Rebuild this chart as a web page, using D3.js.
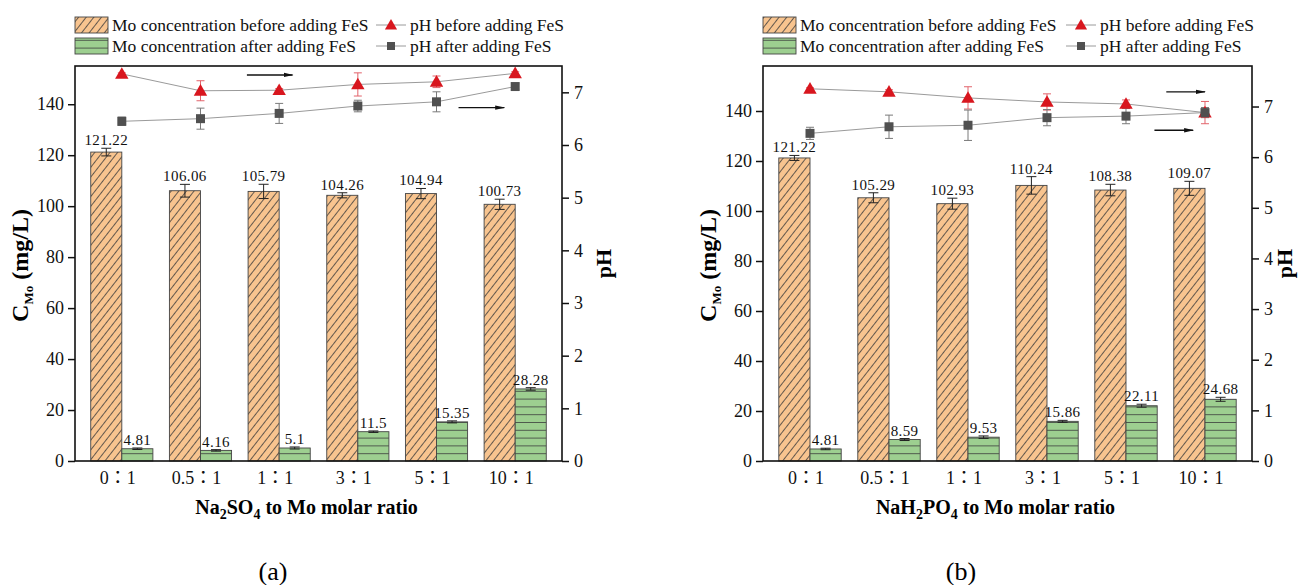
<!DOCTYPE html>
<html><head><meta charset="utf-8">
<script src="https://cdn.jsdelivr.net/npm/d3@7"></script>
<style>body{margin:0;background:#fff}svg{display:block}</style>
</head><body>
<svg id="chart" width="1299" height="585"></svg>
<script>
// ---------- data ----------
const categories = ["0：1", "0.5：1", "1：1", "3：1", "5：1", "10：1"];
const cTicks = [0, 20, 40, 60, 80, 100, 120, 140];
const pHTicks = [0, 1, 2, 3, 4, 5, 6, 7];
const legendLabels = ["Mo concentration before adding FeS", "Mo concentration after adding FeS",
                      "pH before adding FeS", "pH after adding FeS"];

// panel (a) Na2SO4
const moBeforeA    = [121.22, 106.06, 105.79, 104.26, 104.94, 100.73];
const moBeforeErrA = [1.5, 2.5, 2.8, 1.0, 2.0, 2.0];
const moAfterA     = [4.81, 4.16, 5.1, 11.5, 15.35, 28.28];
const moAfterErrA  = [0.3, 0.3, 0.4, 0.3, 0.4, 0.5];
const phBeforeA    = [7.35, 7.03, 7.04, 7.15, 7.20, 7.36];
const phBeforeErrA = [0.02, 0.19, 0.03, 0.22, 0.11, 0.03];
const phAfterA     = [6.45, 6.50, 6.60, 6.74, 6.82, 7.11];
const phAfterErrA  = [0.08, 0.20, 0.19, 0.11, 0.19, 0.05];

// panel (b) NaH2PO4
const moBeforeB    = [121.22, 105.29, 102.93, 110.24, 108.38, 109.07];
const moBeforeErrB = [1.0, 2.0, 2.2, 3.5, 2.3, 2.8];
const moAfterB     = [4.81, 8.59, 9.53, 15.86, 22.11, 24.68];
const moAfterErrB  = [0.3, 0.4, 0.5, 0.4, 0.6, 0.8];
const phBeforeB    = [7.35, 7.29, 7.17, 7.09, 7.05, 6.88];
const phBeforeErrB = [0.02, 0.04, 0.22, 0.16, 0.08, 0.22];
const phAfterB     = [6.47, 6.60, 6.63, 6.78, 6.81, 6.88];
const phAfterErrB  = [0.12, 0.23, 0.30, 0.16, 0.15, 0.10];

// ---------- drawing ----------
const SERIF = "'Liberation Serif','Times New Roman','Noto Sans CJK TC',serif";
const ORANGE = "#F8C48F", GREEN = "#9DCF90", RED = "#D8161E", DARK = "#505050";
const svg = d3.select("#chart");
const defs = svg.append("defs");

const po = defs.append("pattern").attr("id", "hatchO").attr("patternUnits", "userSpaceOnUse")
  .attr("width", 6).attr("height", 6).attr("patternTransform", "rotate(-52)");
po.append("rect").attr("width", 6).attr("height", 6).attr("fill", ORANGE);
po.append("line").attr("x1", 0).attr("x2", 6).attr("y1", 0.5).attr("y2", 0.5)
  .attr("stroke", "#3c3c3c").attr("stroke-width", 0.8);

const pg = defs.append("pattern").attr("id", "hatchG").attr("patternUnits", "userSpaceOnUse")
  .attr("width", 8).attr("height", 7.8).attr("y", 461 % 7.8);
pg.append("rect").attr("width", 8).attr("height", 7.8).attr("fill", GREEN);
pg.append("line").attr("x1", 0).attr("x2", 8).attr("y1", 0.5).attr("y2", 0.5)
  .attr("stroke", "#3c3c3c").attr("stroke-width", 0.8);

defs.append("marker").attr("id", "arr").attr("viewBox", "0 0 10 6").attr("refX", 9).attr("refY", 3)
  .attr("markerWidth", 10).attr("markerHeight", 6).attr("markerUnits", "userSpaceOnUse").attr("orient", "auto")
  .append("path").attr("d", "M0,0.8 L10,3 L0,5.2 Z").attr("fill", "#111");

function drawPanel(cfg) {
  const g = svg.append("g");
  const { x0, x1, y0, y1 } = cfg;
  const x = d3.scaleBand().domain(categories).range([x0, x1]).paddingInner(0.21).paddingOuter(0.2);
  const xs = d3.scaleBand().domain(["before", "after"]).range([0, x.bandwidth()]);
  const yC = d3.scaleLinear().domain(cfg.cDomain).range([y1, y0]);
  const yP = d3.scaleLinear().domain(cfg.pDomain).range([y1, y0]);
  const cx = c => x(c) + x.bandwidth() / 2;

  const series = [
    { key: "before", vals: cfg.before, errs: cfg.beforeErr, fill: "url(#hatchO)" },
    { key: "after", vals: cfg.after, errs: cfg.afterErr, fill: "url(#hatchG)" }
  ];
  series.forEach(s => {
    const bx = c => x(c) + xs(s.key);
    g.selectAll(null).data(categories).join("rect")
      .attr("x", c => bx(c)).attr("width", xs.bandwidth())
      .attr("y", (c, i) => yC(s.vals[i])).attr("height", (c, i) => yC(0) - yC(s.vals[i]))
      .attr("fill", s.fill).attr("stroke", "#444").attr("stroke-width", 0.9);
    const eb = g.selectAll(null).data(categories).join("g")
      .attr("stroke", "#222").attr("stroke-width", 1);
    eb.append("line").attr("x1", c => bx(c) + xs.bandwidth() / 2).attr("x2", c => bx(c) + xs.bandwidth() / 2)
      .attr("y1", (c, i) => yC(s.vals[i] - s.errs[i])).attr("y2", (c, i) => yC(s.vals[i] + s.errs[i]));
    [1, -1].forEach(sg => eb.append("line")
      .attr("x1", c => bx(c) + xs.bandwidth() / 2 - 5).attr("x2", c => bx(c) + xs.bandwidth() / 2 + 5)
      .attr("y1", (c, i) => yC(s.vals[i] + sg * s.errs[i]))
      .attr("y2", (c, i) => yC(s.vals[i] + sg * s.errs[i])));
    g.selectAll(null).data(categories).join("text")
      .attr("x", c => bx(c) + xs.bandwidth() / 2)
      .attr("y", (c, i) => yC(s.vals[i] + s.errs[i]) - 3)
      .attr("text-anchor", "middle").attr("font-family", SERIF).attr("font-size", 15)
      .attr("letter-spacing", 0.4).attr("fill", "#111")
      .text((c, i) => String(s.vals[i]));
  });

  // pH lines
  const phSeries = [
    { vals: cfg.phB, errs: cfg.phBErr, sym: d3.symbolTriangle, size: 78, fill: RED, err: "#E2636B" },
    { vals: cfg.phA, errs: cfg.phAErr, sym: d3.symbolSquare, size: 81, fill: DARK, err: "#7a7a7a" }
  ];
  phSeries.forEach(s => {
    g.append("path").datum(categories)
      .attr("d", d3.line().x(c => cx(c)).y((c, i) => yP(s.vals[i])))
      .attr("fill", "none").attr("stroke", "#9a9a9a").attr("stroke-width", 1);
  });
  phSeries.forEach(s => {
    const eb = g.selectAll(null).data(categories).join("g").attr("stroke", s.err).attr("stroke-width", 1);
    eb.append("line").attr("x1", cx).attr("x2", cx)
      .attr("y1", (c, i) => yP(s.vals[i] - s.errs[i])).attr("y2", (c, i) => yP(s.vals[i] + s.errs[i]));
    [1, -1].forEach(sg => eb.append("line").attr("x1", c => cx(c) - 4).attr("x2", c => cx(c) + 4)
      .attr("y1", (c, i) => yP(s.vals[i] + sg * s.errs[i])).attr("y2", (c, i) => yP(s.vals[i] + sg * s.errs[i])));
  });
  phSeries.forEach(s => {
    g.selectAll(null).data(categories).join("path")
      .attr("transform", (c, i) => `translate(${cx(c)},${yP(s.vals[i]) + (s.sym === d3.symbolTriangle ? 1 : 0)})`)
      .attr("d", d3.symbol(s.sym, s.size)).attr("fill", s.fill);
  });

  // arrows (pointing to right axis)
  const step = x.step();
  cfg.arrows.forEach(a => {
    g.append("line")
      .attr("x1", cx(categories[0]) + a[0] * step).attr("x2", cx(categories[0]) + a[1] * step)
      .attr("y1", yP(a[2])).attr("y2", yP(a[2]))
      .attr("stroke", "#111").attr("stroke-width", 1.4).attr("marker-end", "url(#arr)");
  });

  // axes
  const styleAxis = sel => {
    sel.select(".domain").remove();
    sel.selectAll("text").attr("font-family", SERIF).attr("font-size", 18).attr("fill", "#111");
    sel.selectAll("line").attr("stroke", "#111").attr("stroke-width", 1.5);
  };
  g.append("g").attr("transform", `translate(${x0},0)`)
    .call(d3.axisLeft(yC).tickValues(cTicks).tickSize(7).tickPadding(4)).call(styleAxis);
  g.append("g").attr("transform", `translate(${x1},0)`)
    .call(d3.axisRight(yP).tickValues(pHTicks).tickSize(7).tickPadding(5)).call(styleAxis);
  g.append("g").attr("transform", `translate(0,${y1})`)
    .call(d3.axisBottom(x).tickSize(0).tickPadding(10)).call(styleAxis)
    .selectAll("text").attr("dx", -4);

  g.append("rect").attr("x", x0).attr("y", y0).attr("width", x1 - x0).attr("height", y1 - y0)
    .attr("fill", "none").attr("stroke", "#111").attr("stroke-width", 1.6);

  // axis titles
  const lt = g.append("text").attr("transform", `translate(${x0 - 47},${(y0 + y1) / 2 + 2}) rotate(-90)`)
    .attr("text-anchor", "middle").attr("font-family", SERIF).attr("font-weight", "bold").attr("font-size", 24);
  lt.append("tspan").text("C");
  lt.append("tspan").attr("font-size", 13).attr("dy", 5).text("Mo");
  lt.append("tspan").attr("dy", -5).text(" (mg/L)");

  g.append("text").attr("transform", `translate(${x1 + cfg.phTitleOff},${(y0 + y1) / 2}) rotate(-90)`)
    .attr("text-anchor", "middle").attr("font-family", SERIF).attr("font-weight", "bold").attr("font-size", 22)
    .text("pH");

  const xt = g.append("text").attr("x", (x0 + x1) / 2 - 12).attr("y", y1 + 53)
    .attr("text-anchor", "middle").attr("font-family", SERIF).attr("font-weight", "bold").attr("font-size", 20);
  cfg.xTitle.forEach(p => {
    if (p[1]) xt.append("tspan").attr("font-size", 14).attr("dy", 5).text(p[0]);
    else xt.append("tspan").attr("dy", p[2] || 0).text(p[0]);
  });

  g.append("text").attr("x", x0 + 198).attr("y", 580).attr("text-anchor", "middle")
    .attr("font-family", SERIF).attr("font-size", 26).text(cfg.caption);

  // legend
  const ly = [25, 46];
  [["url(#hatchO)", legendLabels[0]], ["url(#hatchG)", legendLabels[1]]].forEach((d, i) => {
    g.append("rect").attr("x", x0).attr("y", ly[i] - 8).attr("width", 33).attr("height", 16)
      .attr("fill", d[0]).attr("stroke", "#444").attr("stroke-width", 0.9);
    g.append("text").attr("x", x0 + 37).attr("y", ly[i] + 6).attr("font-family", SERIF).attr("font-size", 17.5)
      .attr("fill", "#111").text(d[1]);
  });
  const lx = x1 - 152;
  [[d3.symbolTriangle, 64, RED, legendLabels[2]], [d3.symbolSquare, 64, DARK, legendLabels[3]]].forEach((d, i) => {
    g.append("line").attr("x1", lx - 34).attr("x2", lx - 4).attr("y1", ly[i]).attr("y2", ly[i])
      .attr("stroke", "#9a9a9a").attr("stroke-width", 1);
    g.append("path").attr("transform", `translate(${lx - 19},${ly[i] + (i === 0 ? 1 : 0)})`)
      .attr("d", d3.symbol(d[0], d[1])).attr("fill", d[2]);
    g.append("text").attr("x", lx).attr("y", ly[i] + 6).attr("font-family", SERIF).attr("font-size", 17.5)
      .attr("fill", "#111").text(d[3]);
  });
}

drawPanel({
  x0: 75, x1: 562, y0: 66, y1: 461, cDomain: [0, 155], pDomain: [0, 7.5],
  before: moBeforeA, beforeErr: moBeforeErrA, after: moAfterA, afterErr: moAfterErrA,
  phB: phBeforeA, phBErr: phBeforeErrA, phA: phAfterA, phAErr: phAfterErrA,
  arrows: [[1.59, 2.17, 7.33], [4.28, 4.86, 6.71]],
  xTitle: [["Na"], ["2", true], ["SO", false, -5], ["4", true], [" to Mo molar ratio", false, -5]],
  caption: "(a)", phTitleOff: 49
});
drawPanel({
  x0: 763, x1: 1252, y0: 66, y1: 461, cDomain: [0, 158], pDomain: [0, 7.8],
  before: moBeforeB, beforeErr: moBeforeErrB, after: moAfterB, afterErr: moAfterErrB,
  phB: phBeforeB, phBErr: phBeforeErrB, phA: phAfterB, phAErr: phAfterErrB,
  arrows: [[4.51, 5.0, 7.29], [4.36, 4.85, 6.53]],
  xTitle: [["NaH"], ["2", true], ["PO", false, -5], ["4", true], [" to Mo molar ratio", false, -5]],
  caption: "(b)", phTitleOff: 40
});
</script>
</body></html>
